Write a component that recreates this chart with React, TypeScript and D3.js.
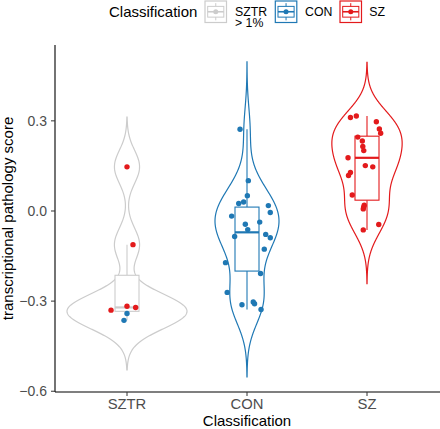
import React from 'react';
import * as d3 from 'd3';

// ---------- data ----------
const categories = ['SZTR', 'CON', 'SZ'];
const groupColors = ['#CCCCCC', '#1F78B4', '#E31A1C'];
const classColors: Record<string, string> = { CON: '#1F78B4', SZ: '#E31A1C' };
const legendLabels = [['SZTR', '> 1%'], ['CON'], ['SZ']];

const sztrScores = [0.147, -0.112, -0.330, -0.317, -0.321, -0.341, -0.364];
const sztrJitter = [0, 0.05, -0.133, 0, 0.072, 0, -0.025];
const sztrClass = ['SZ', 'SZ', 'SZ', 'SZ', 'SZ', 'CON', 'CON'];

const conScores = [0.272, 0.101, 0.051, 0.025, 0.030, 0.018, -0.005, -0.017, -0.044, -0.037, -0.062, -0.085, -0.078, -0.089, -0.127, -0.172, -0.208, -0.271, -0.312, -0.303, -0.309, -0.328];
const conJitter = [-0.058, 0.011, 0.003, -0.069, -0.028, 0.178, 0.194, -0.128, -0.014, 0.106, 0.006, -0.103, 0.156, 0.194, 0.144, -0.179, 0.113, -0.165, -0.042, 0.052, 0.063, 0.117];

const szScores = [0.311, 0.316, 0.297, 0.273, 0.259, 0.246, 0.233, 0.215, 0.201, 0.177, 0.151, 0.147, 0.128, 0.118, 0.053, 0.019, 0.013, 0.007, -0.045, -0.063];
const szJitter = [-0.138, -0.089, 0.078, 0.103, 0.114, -0.077, -0.039, -0.035, -0.027, -0.158, -0.014, 0.048, -0.138, -0.154, -0.123, -0.023, -0.028, -0.031, 0.098, -0.031];

const boxLow = [-0.364, -0.328, -0.063];
const boxQ1 = [-0.334, -0.200, 0.036];
const boxMedian = [-0.321, -0.071, 0.177];
const boxQ3 = [-0.214, 0.013, 0.249];
const boxHigh = [-0.112, 0.272, 0.316];

const yTicks = [-0.6, -0.3, 0, 0.3];
const yDomain = [-0.6025, 0.5525];

// ---------- layout ----------
const W = 440, H = 429;
const PL = 55, PR = 439, PT = 45, PB = 392;
const FONT = "'Liberation Sans', Arial, Helvetica, sans-serif";
const MAX_HALF = 60;

const groups = [
  { scores: sztrScores, jitter: sztrJitter, cls: sztrClass },
  { scores: conScores, jitter: conJitter, cls: conScores.map(() => 'CON') },
  { scores: szScores, jitter: szJitter, cls: szScores.map(() => 'SZ') },
];

function bwNrd0(v: number[]) {
  const s = v.slice().sort(d3.ascending);
  const sd = d3.deviation(s) || 0;
  const iqr = (d3.quantileSorted(s, 0.75) as number) - (d3.quantileSorted(s, 0.25) as number);
  let lo = Math.min(sd, iqr / 1.34);
  if (!(lo > 0)) lo = sd || Math.abs(s[0]) || 1;
  return 0.9 * lo * Math.pow(s.length, -0.2);
}

function kde(v: number[]) {
  const bw = bwNrd0(v);
  const lo = (d3.min(v) as number) - 3 * bw;
  const hi = (d3.max(v) as number) + 3 * bw;
  const n = 512;
  const out: [number, number][] = [];
  for (let i = 0; i < n; i++) {
    const y = lo + ((hi - lo) * i) / (n - 1);
    let s = 0;
    for (const x of v) {
      const z = (y - x) / bw;
      s += Math.exp(-0.5 * z * z);
    }
    out.push([y, s / (v.length * bw * Math.sqrt(2 * Math.PI))]);
  }
  return out;
}

export default function App() {
  const x = d3.scalePoint<string>().domain(categories).range([PL, PR]).padding(0.6);
  const band = x.step();
  const y = d3.scaleLinear().domain(yDomain).range([PB, PT]);
  const fmt = d3.format('.1f');

  const dens = groups.map((g) => kde(g.scores));
  const maxD = d3.max(dens.flat(), (d) => d[1]) as number;
  const boxHalf = band * 0.1;

  return (
    <svg width={W} height={H} style={{ position: 'absolute', left: 0, top: 0, background: '#fff' }} fontFamily={FONT}>
      {/* violins */}
      {categories.map((c, i) => {
        const cx = x(c) as number;
        const area = d3
          .area<[number, number]>()
          .y((d) => y(d[0]))
          .x0((d) => cx - (d[1] / maxD) * MAX_HALF)
          .x1((d) => cx + (d[1] / maxD) * MAX_HALF);
        return <path key={'v' + c} d={area(dens[i]) || ''} fill="#fff" stroke={groupColors[i]} strokeWidth={1.2} />;
      })}
      {/* boxes */}
      {categories.map((c, i) => {
        const cx = x(c) as number;
        const col = groupColors[i];
        return (
          <g key={'b' + c} stroke={col}>
            <line x1={cx} x2={cx} y1={y(boxQ3[i])} y2={y(boxHigh[i])} strokeWidth={1.1} />
            <line x1={cx} x2={cx} y1={y(boxQ1[i])} y2={y(boxLow[i])} strokeWidth={1.1} />
            <rect x={cx - boxHalf} width={boxHalf * 2} y={y(boxQ3[i])} height={y(boxQ1[i]) - y(boxQ3[i])} fill="#fff" strokeWidth={1.1} />
            <line x1={cx - boxHalf} x2={cx + boxHalf} y1={y(boxMedian[i])} y2={y(boxMedian[i])} strokeWidth={2.2} />
          </g>
        );
      })}
      {/* points */}
      {categories.map((c, i) => {
        const cx = x(c) as number;
        const g = groups[i];
        return g.scores.map((v, j) => (
          <circle key={c + j} cx={cx + g.jitter[j] * band} cy={y(v)} r={2.7} fill={classColors[g.cls[j]]} />
        ));
      })}
      {/* axes */}
      <line x1={PL} x2={PL} y1={PT} y2={PB} stroke="#000" strokeWidth={1.1} />
      <line x1={PL} x2={PR + 1} y1={PB} y2={PB} stroke="#000" strokeWidth={1.1} />
      {yTicks.map((t) => (
        <g key={'yt' + t}>
          <line x1={PL - 4} x2={PL} y1={y(t)} y2={y(t)} stroke="#333" strokeWidth={1} />
          <text x={PL - 8} y={y(t)} dy="0.36em" textAnchor="end" fontSize={14} fill="#4D4D4D">
            {fmt(t)}
          </text>
        </g>
      ))}
      {categories.map((c) => (
        <g key={'xt' + c}>
          <line x1={x(c)} x2={x(c)} y1={PB} y2={PB + 4} stroke="#333" strokeWidth={1} />
          <text x={x(c)} y={409} textAnchor="middle" fontSize={14.8} fill="#4D4D4D">
            {c}
          </text>
        </g>
      ))}
      <text x={(PL + PR) / 2} y={426} textAnchor="middle" fontSize={15} fill="#000">
        Classification
      </text>
      <text transform={`translate(13,${(PT + PB) / 2}) rotate(-90)`} textAnchor="middle" fontSize={15} fill="#000">
        transcriptional pathology score
      </text>
      {/* legend */}
      <text x={109} y={17} fontSize={15} fill="#000">
        Classification
      </text>
      {categories.map((c, i) => {
        const kx = [205, 275.3, 340][i];
        const lx = [235, 305, 369.3][i];
        const ks = 21.5;
        const ky = 1;
        const col = groupColors[i];
        return (
          <g key={'lg' + c}>
            <rect x={kx} y={ky} width={ks} height={ks} fill="#fff" stroke={col} strokeWidth={1.2} />
            <g stroke={col} strokeWidth={1}>
              <line x1={kx + ks / 2} x2={kx + ks / 2} y1={ky + ks * 0.1} y2={ky + ks * 0.25} />
              <line x1={kx + ks / 2} x2={kx + ks / 2} y1={ky + ks * 0.75} y2={ky + ks * 0.9} />
              <rect x={kx + ks * 0.125} y={ky + ks * 0.25} width={ks * 0.75} height={ks * 0.5} fill="none" />
              <line x1={kx + ks * 0.125} x2={kx + ks * 0.875} y1={ky + ks / 2} y2={ky + ks / 2} strokeWidth={1.6} />
            </g>
            <circle cx={kx + ks / 2} cy={ky + ks / 2} r={2.5} fill={col} />
            {legendLabels[i].map((l, k) => (
              <text key={l} x={lx} y={15.5 + k * 11.5} fontSize={12.3} fill="#000">
                {l}
              </text>
            ))}
          </g>
        );
      })}
    </svg>
  );
}
